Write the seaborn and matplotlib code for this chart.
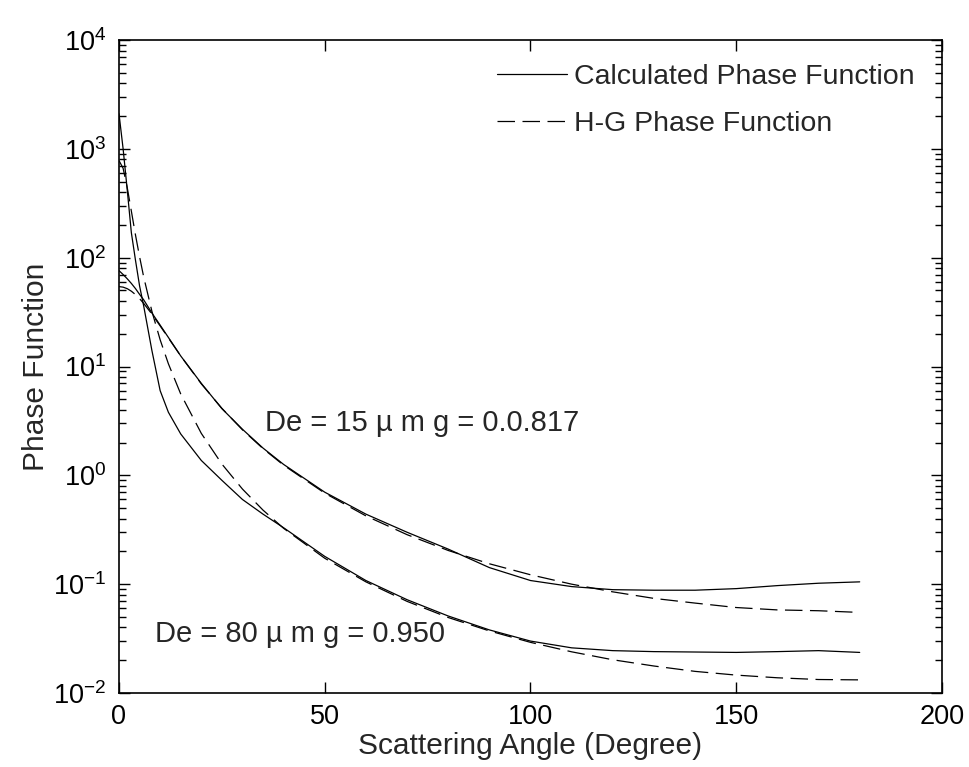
import numpy as np
import pandas as pd
import matplotlib
matplotlib.use("Agg")
import matplotlib.pyplot as plt
import seaborn as sns
from matplotlib.ticker import LogFormatterMathtext, FixedLocator, NullLocator, NullFormatter
from matplotlib.lines import Line2D

# ---- data ----
angles = [0, 1, 2, 3, 4, 5, 6, 8, 10, 12, 15, 20, 25, 30, 35, 40, 50, 60, 70, 80,
          90, 100, 110, 120, 130, 140, 150, 160, 170, 180]

calc_de15 = [76, 70, 64, 58, 52, 46, 41, 31, 24, 18.5, 12.5, 7.0, 4.1, 2.65, 1.78, 1.26,
             0.70, 0.44, 0.30, 0.21, 0.142, 0.108, 0.095, 0.089, 0.088, 0.088, 0.091,
             0.097, 0.102, 0.105]
hg_de15 = [54.2, 53.6, 51.9, 49.2, 45.8, 42.0, 38.0, 30.3, 23.6, 18.3, 12.5, 6.93, 4.13,
           2.62, 1.76, 1.24, 0.686, 0.424, 0.285, 0.204, 0.154, 0.122, 0.100, 0.085,
           0.074, 0.067, 0.061, 0.058, 0.057, 0.055]
calc_de80 = [2100, 1000, 420, 170, 95, 55, 36, 14, 6.0, 3.8, 2.4, 1.37, 0.90, 0.60, 0.44,
             0.33, 0.18, 0.108, 0.072, 0.051, 0.038, 0.030, 0.026, 0.0245, 0.024, 0.0238,
             0.0236, 0.024, 0.0245, 0.0236]
hg_de80 = [780, 662, 441, 268, 162, 102, 66.5, 32.1, 17.6, 10.6, 5.59, 2.43, 1.27, 0.748,
           0.479, 0.326, 0.173, 0.105, 0.0695, 0.0494, 0.0372, 0.0292, 0.0239, 0.0202,
           0.0177, 0.0158, 0.0146, 0.0138, 0.0133, 0.0132]

legend_labels = ["Calculated Phase Function", "H-G Phase Function"]
annot_15 = "De = 15 \u00b5 m g = 0.0.817"
annot_80 = "De = 80 \u00b5 m g = 0.950"
x_label = "Scattering Angle (Degree)"
y_label = "Phase Function"
x_ticks = [0, 50, 100, 150, 200]
y_ticks = [1e-2, 1e-1, 1e0, 1e1, 1e2, 1e3, 1e4]

# ---- styling ----
sns.set_style("ticks")
plt.rcParams["font.family"] = ["Liberation Sans", "DejaVu Sans"]
plt.rcParams["mathtext.fontset"] = "custom"
plt.rcParams["mathtext.rm"] = "Liberation Sans"
plt.rcParams["mathtext.it"] = "Liberation Sans:italic"

FS_TICK = 19.5
FS_LEG = 20.5
FS_ANN = 21
FS_LAB = 21.5

fig = plt.figure(figsize=(9.7, 7.67), dpi=100)
ax = fig.add_axes([119 / 970, 1 - 693 / 767, (942 - 119) / 970, (693 - 40) / 767])

dash = (14, 6)
lw = 0.9
series = [
    (calc_de15, "solid"), (hg_de15, "dashed"),
    (calc_de80, "solid"), (hg_de80, "dashed"),
]
for vals, style in series:
    df = pd.DataFrame({"angle": angles, "p": vals})
    sns.lineplot(data=df, x="angle", y="p", ax=ax, color="black", lw=lw, sort=False)
    if style == "dashed":
        ax.lines[-1].set_dashes(dash)

ax.set_yscale("log")
ax.set_xlim(0, 200)
ax.set_ylim(y_ticks[0], y_ticks[-1])

minor_y = [m * t for t in y_ticks[:-1] for m in range(2, 10)]
ax.xaxis.set_major_locator(FixedLocator(x_ticks))
ax.xaxis.set_minor_locator(NullLocator())
ax.yaxis.set_major_locator(FixedLocator(y_ticks))
ax.yaxis.set_minor_locator(FixedLocator(minor_y))
ax.yaxis.set_major_formatter(LogFormatterMathtext())
ax.yaxis.set_minor_formatter(NullFormatter())

ax.tick_params(which="both", direction="in", top=True, right=True, colors="black",
               labelsize=FS_TICK, width=1.0)
ax.tick_params(which="major", length=8)
ax.tick_params(which="minor", length=5)
ax.tick_params(axis="x", pad=8)
ax.tick_params(axis="y", pad=9)
for s in ax.spines.values():
    s.set_visible(True)
    s.set_color("black")
    s.set_linewidth(1.2)

ax.set_xlabel(x_label, fontsize=FS_LAB, labelpad=1)
ax.set_ylabel(y_label, fontsize=FS_LAB, labelpad=2)

handles = [Line2D([], [], color="black", lw=lw),
           Line2D([], [], color="black", lw=lw, dashes=dash)]
ax.legend(handles, legend_labels, loc="upper right", frameon=False, fontsize=FS_LEG,
          handlelength=2.45, handletextpad=0.25, labelspacing=0.72,
          bbox_to_anchor=(0.981, 0.98), borderaxespad=0)

ax.text(35.5, 3.0, annot_15, fontsize=FS_ANN, va="center", ha="left")
ax.text(8.7, 0.035, annot_80, fontsize=FS_ANN, va="center", ha="left")

fig.savefig("out.png", dpi=100, facecolor="white")
